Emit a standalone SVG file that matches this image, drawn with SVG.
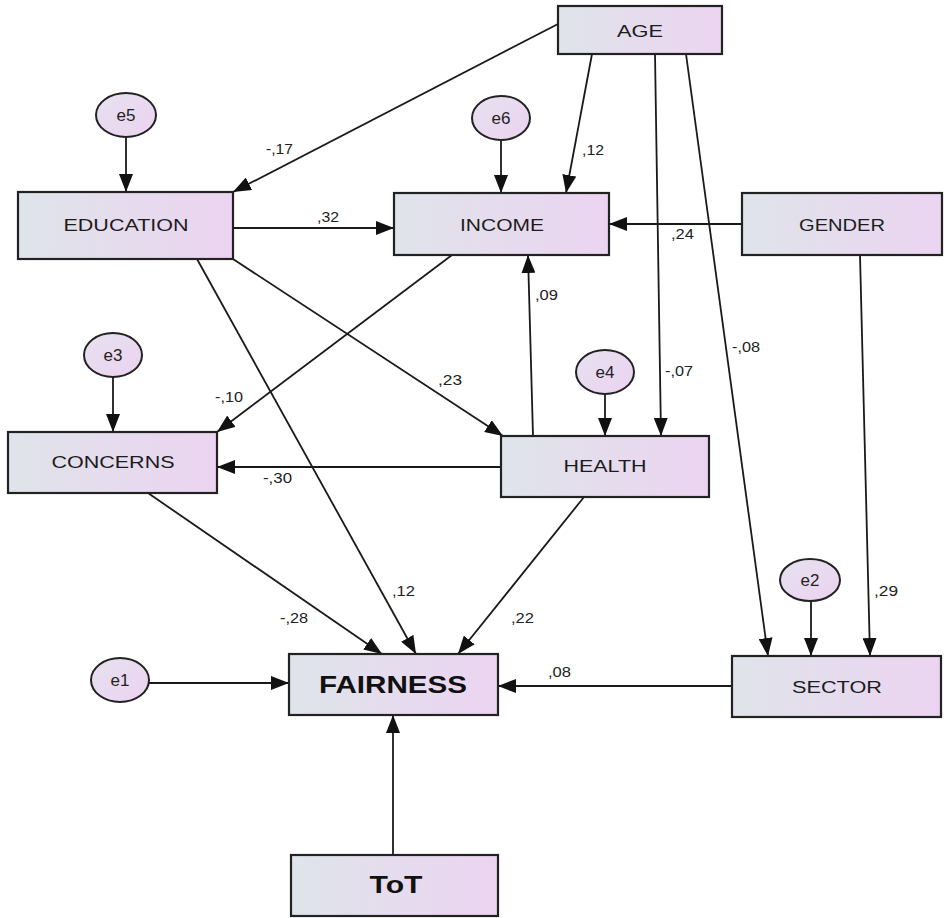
<svg xmlns="http://www.w3.org/2000/svg" width="944" height="918" viewBox="0 0 944 918">
<defs>
<linearGradient id="gBox" x1="0" y1="0" x2="1" y2="0">
<stop offset="0" stop-color="#dfe4ea"/>
<stop offset="1" stop-color="#ecd4f1"/>
</linearGradient>
<linearGradient id="gEll" x1="0" y1="0" x2="1" y2="1">
<stop offset="0" stop-color="#e6e2f0"/>
<stop offset="1" stop-color="#ecd2f0"/>
</linearGradient>
<marker id="arr" viewBox="0 0 18 14" refX="18" refY="7" markerWidth="18" markerHeight="14" markerUnits="userSpaceOnUse" orient="auto">
<path d="M0,0 L18,7 L0,14 z" fill="#111"/>
</marker>
</defs>
<style>
.box{fill:url(#gBox);stroke:#222;stroke-width:2.2}
.ell{fill:url(#gEll);stroke:#222;stroke-width:2}
.lbl{font-family:"Liberation Sans",Arial,sans-serif;font-size:16px;fill:#1c1c1c;text-anchor:middle}
.big{font-family:"Liberation Sans",Arial,sans-serif;font-size:23px;font-weight:bold;fill:#111;text-anchor:middle}
.el{font-family:"Liberation Sans",Arial,sans-serif;font-size:17px;fill:#222;text-anchor:middle}
.val{font-family:"Liberation Sans",Arial,sans-serif;font-size:14px;fill:#222}
.c line{stroke:#1a1a1a;stroke-width:1.8;marker-end:url(#arr)}
</style>
<rect width="944" height="918" fill="#fff"/>
<g class="c" id="connectors">
<line x1="558" y1="24" x2="233" y2="192"/>
<line x1="592" y1="54" x2="566" y2="193"/>
<line x1="655" y1="54" x2="661" y2="436"/>
<line x1="686" y1="54" x2="768" y2="656"/>
<line x1="742" y1="224" x2="609" y2="224"/>
<line x1="860" y1="255" x2="870" y2="656"/>
<line x1="233" y1="228" x2="394" y2="228"/>
<line x1="233" y1="259" x2="503" y2="436"/>
<line x1="197" y1="259" x2="416" y2="654"/>
<line x1="452" y1="255" x2="217" y2="432"/>
<line x1="533" y1="436" x2="528" y2="255"/>
<line x1="501" y1="467" x2="217" y2="467"/>
<line x1="148" y1="493" x2="382" y2="654"/>
<line x1="584" y1="497" x2="458" y2="654"/>
<line x1="149" y1="683" x2="289" y2="683"/>
<line x1="732" y1="686" x2="498" y2="686"/>
<line x1="393" y1="855" x2="393" y2="715"/>
<line x1="126" y1="137" x2="126" y2="192"/>
<line x1="501" y1="140" x2="501" y2="193"/>
<line x1="113" y1="377" x2="113" y2="432"/>
<line x1="605" y1="394" x2="605" y2="436"/>
<line x1="811" y1="601" x2="811" y2="656"/>
</g>
<g id="labels">
<text class="val" x="266" y="154" textLength="27" lengthAdjust="spacingAndGlyphs">-,17</text>
<text class="val" x="317" y="222" textLength="22" lengthAdjust="spacingAndGlyphs">,32</text>
<text class="val" x="582" y="155" textLength="22" lengthAdjust="spacingAndGlyphs">,12</text>
<text class="val" x="671" y="239" textLength="23" lengthAdjust="spacingAndGlyphs">,24</text>
<text class="val" x="535" y="300" textLength="23" lengthAdjust="spacingAndGlyphs">,09</text>
<text class="val" x="215" y="402" textLength="28" lengthAdjust="spacingAndGlyphs">-,10</text>
<text class="val" x="438" y="385" textLength="24" lengthAdjust="spacingAndGlyphs">,23</text>
<text class="val" x="263" y="483" textLength="29" lengthAdjust="spacingAndGlyphs">-,30</text>
<text class="val" x="665" y="376" textLength="28" lengthAdjust="spacingAndGlyphs">-,07</text>
<text class="val" x="732" y="352" textLength="28" lengthAdjust="spacingAndGlyphs">-,08</text>
<text class="val" x="280" y="623" textLength="28" lengthAdjust="spacingAndGlyphs">-,28</text>
<text class="val" x="392" y="596" textLength="23" lengthAdjust="spacingAndGlyphs">,12</text>
<text class="val" x="511" y="623" textLength="23" lengthAdjust="spacingAndGlyphs">,22</text>
<text class="val" x="874" y="596" textLength="24" lengthAdjust="spacingAndGlyphs">,29</text>
<text class="val" x="548" y="677" textLength="23" lengthAdjust="spacingAndGlyphs">,08</text>
<text class="val" x="396" y="710" textLength="23" lengthAdjust="spacingAndGlyphs">,06</text>
</g>
<g id="AGE"><rect class="box" x="558" y="6" width="164" height="48"/><text class="lbl" x="640" y="37" textLength="46" lengthAdjust="spacingAndGlyphs">AGE</text></g>
<g id="EDUCATION"><rect class="box" x="18" y="192" width="215" height="67"/><text class="lbl" x="126" y="231" textLength="125" lengthAdjust="spacingAndGlyphs">EDUCATION</text></g>
<g id="INCOME"><rect class="box" x="394" y="193" width="215" height="62"/><text class="lbl" x="502" y="231" textLength="84" lengthAdjust="spacingAndGlyphs">INCOME</text></g>
<g id="GENDER"><rect class="box" x="742" y="193" width="200" height="62"/><text class="lbl" x="842" y="231" textLength="86" lengthAdjust="spacingAndGlyphs">GENDER</text></g>
<g id="CONCERNS"><rect class="box" x="8" y="432" width="209" height="61"/><text class="lbl" x="113" y="468" textLength="123" lengthAdjust="spacingAndGlyphs">CONCERNS</text></g>
<g id="HEALTH"><rect class="box" x="501" y="436" width="208" height="61"/><text class="lbl" x="605" y="472" textLength="83" lengthAdjust="spacingAndGlyphs">HEALTH</text></g>
<g id="FAIRNESS"><rect class="box" x="289" y="654" width="209" height="61"/><text class="big" x="393" y="693" textLength="148" lengthAdjust="spacingAndGlyphs">FAIRNESS</text></g>
<g id="SECTOR"><rect class="box" x="732" y="656" width="209" height="61"/><text class="lbl" x="837" y="693" textLength="90" lengthAdjust="spacingAndGlyphs">SECTOR</text></g>
<g id="ToT"><rect class="box" x="291" y="855" width="207" height="61"/><text class="big" x="396" y="893" textLength="53" lengthAdjust="spacingAndGlyphs">ToT</text></g>
<g id="e5"><ellipse class="ell" cx="126" cy="115" rx="30" ry="22"/><text class="el" x="126" y="121">e5</text></g>
<g id="e6"><ellipse class="ell" cx="501" cy="118" rx="29" ry="22"/><text class="el" x="501" y="124">e6</text></g>
<g id="e3"><ellipse class="ell" cx="113" cy="355" rx="29" ry="22"/><text class="el" x="113" y="361">e3</text></g>
<g id="e4"><ellipse class="ell" cx="605" cy="372" rx="29" ry="22"/><text class="el" x="605" y="378">e4</text></g>
<g id="e2"><ellipse class="ell" cx="810" cy="580" rx="30" ry="21"/><text class="el" x="810" y="586">e2</text></g>
<g id="e1"><ellipse class="ell" cx="120" cy="680" rx="29" ry="22"/><text class="el" x="120" y="686">e1</text></g>
</svg>
